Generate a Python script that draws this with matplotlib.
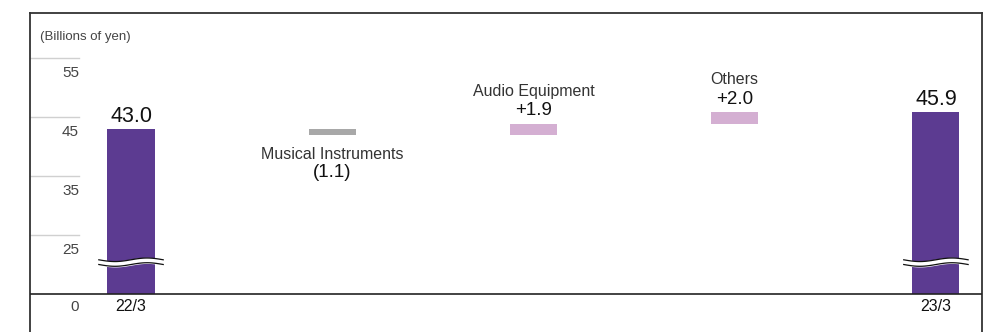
import numpy as np
import matplotlib.pyplot as plt
from matplotlib import transforms

plt.rcParams['font.family'] = ['Liberation Sans', 'DejaVu Sans']

# data
periods = ['22/3', '23/3']
start_value = 43.0
end_value = 45.9
segments = ['Musical Instruments', 'Audio Equipment', 'Others']
changes = [-1.1, 1.9, 2.0]
change_labels = ['(1.1)', '+1.9', '+2.0']
y_ticks = [25, 35, 45, 55]

purple = '#5c3b91'
pink = '#d4afd2'
grey = '#a8a8a8'

fig = plt.figure(figsize=(9.92, 3.32), dpi=100)
ax = fig.add_axes([30 / 992, 0, 952 / 992, 319 / 332])
ax.set_xlim(-0.502, 4.229)
ax.set_ylim(8.56, 62.63)
base = 15  # broken axis: baseline drawn as 0

for s in ['left', 'right', 'top']:
    ax.spines[s].set_color('#333333')
    ax.spines[s].set_linewidth(1.3)
ax.spines['bottom'].set_visible(False)
ax.set_xticks([])
ax.set_yticks([])

ax.axhline(base, color='#222222', lw=1.2, zorder=3)

# short gridlines + labels
tr = transforms.blended_transform_factory(ax.transAxes, ax.transData)
for t in y_ticks:
    ax.plot([0, 49 / 952], [t, t], color='#d0d0d0', lw=1, transform=tr, clip_on=False)
    ax.annotate(str(t), (49 / 952, t), xycoords=tr, xytext=(0, -10.5), textcoords='offset points',
                ha='right', va='center', fontsize=11, color='#444444')
ax.annotate('0', (49 / 952, base), xycoords=tr, xytext=(0, -9.5), textcoords='offset points',
            ha='right', va='center', fontsize=11, color='#444444')
ax.text(10 / 952, 1 - 24 / 319, '(Billions of yen)', transform=ax.transAxes,
        ha='left', va='center', fontsize=9.5, color='#444444')

w = 0.234
xs = [0, 4]
totals = [start_value, end_value]
for x, v, p in zip(xs, totals, periods):
    ax.bar(x, v - base, bottom=base, width=w, color=purple, zorder=2)
    ax.annotate(f'{v:.1f}', (x, v), xytext=(0, 8.8), textcoords='offset points',
                ha='center', va='center', fontsize=15.5, color='#111111')
    ax.annotate(p, (x, base), xytext=(0, -9), textcoords='offset points',
                ha='center', va='center', fontsize=11.5, color='#111111')

    # break mark
    bx = np.linspace(x - 0.16, x + 0.16, 60)
    yc = 20.4
    wave = 0.3 * np.sin((bx - x) / 0.32 * 2 * np.pi)
    ax.fill_between(bx, yc + wave - 0.4, yc + wave + 0.4, color='white', zorder=4)
    ax.plot(bx, yc + wave - 0.4, color='#111111', lw=0.9, zorder=5)
    ax.plot(bx, yc + wave + 0.4, color='#111111', lw=0.9, zorder=5)

level = start_value
for i, (name, c, lab) in enumerate(zip(segments, changes, change_labels)):
    x = i + 1
    lo, hi = min(level, level + c), max(level, level + c)
    ax.bar(x, hi - lo, bottom=lo, width=w, color=grey if c < 0 else pink, zorder=2)
    if c < 0:
        ax.annotate(name, (x, lo), xytext=(0, -13.7), textcoords='offset points',
                    ha='center', va='center', fontsize=11.5, color='#333333')
        ax.annotate(lab, (x, lo), xytext=(0, -26.6), textcoords='offset points',
                    ha='center', va='center', fontsize=13.5, color='#111111')
    else:
        ax.annotate(lab, (x, hi), xytext=(0, 9.5), textcoords='offset points',
                    ha='center', va='center', fontsize=13.5, color='#111111')
        ax.annotate(name, (x, hi), xytext=(0, 23.8), textcoords='offset points',
                    ha='center', va='center', fontsize=11.5, color='#333333')
    level += c

fig.savefig('out.png', dpi=100)
